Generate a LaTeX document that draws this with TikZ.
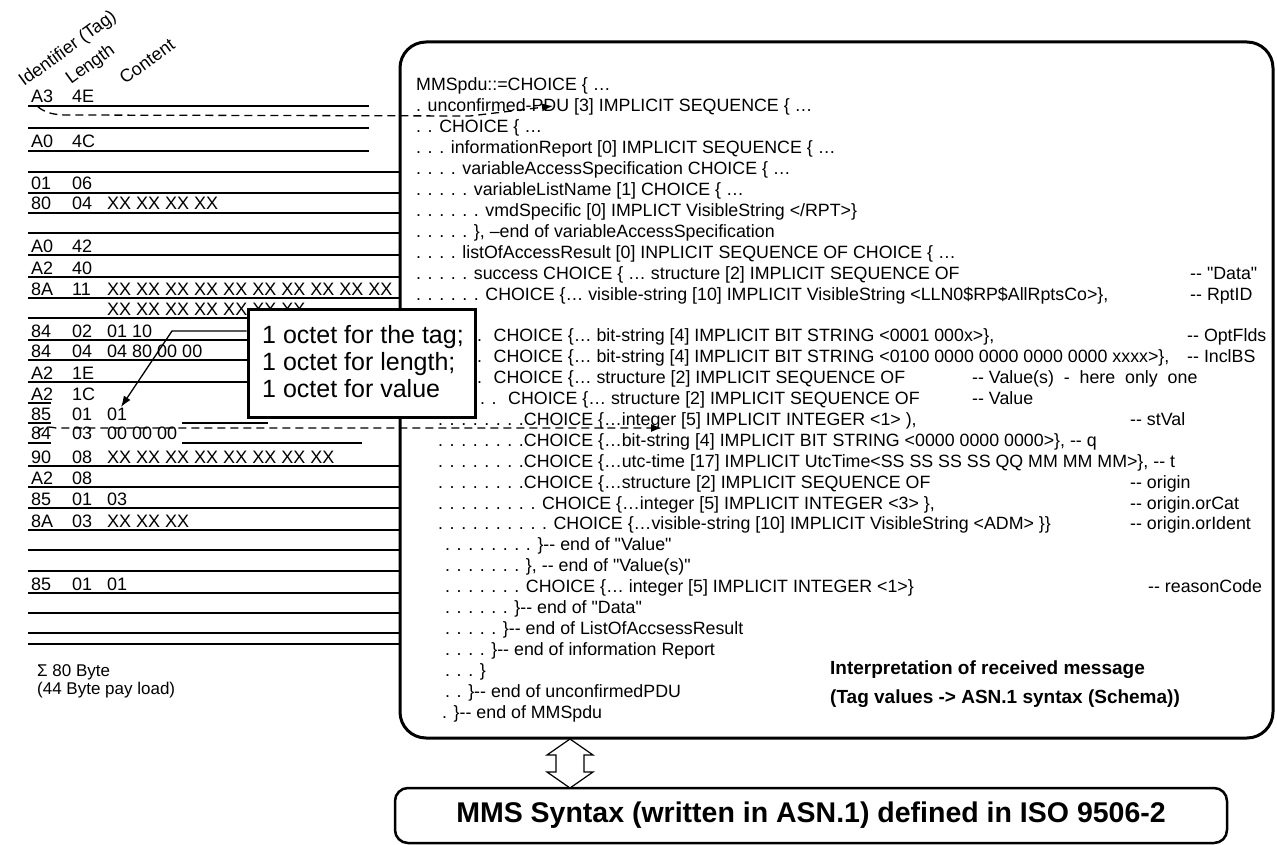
\documentclass[tikz,border=0pt]{standalone}
\usepackage{fontspec}
\setmainfont{Liberation Sans}
\newfontfamily\lsans{Liberation Sans}
\usetikzlibrary{arrows.meta}
\newcommand\dd{-\kern0pt-}
\newcommand\lrow[5]{%
  \node[lc] (#1a) at (31,#2) {#3};
  \node[lc] (#1b) at (72,#2) {#4};
  \node[lc] (#1c) at (107,#2) {#5};}
\newcommand\bl[4]{\node[asn] (#1) at (#2,{91+(#3-1)*20.9}) {#4};}
\begin{document}
\begin{tikzpicture}[x=1pt,y=-1pt,
  asn/.style={anchor=base west,inner sep=0pt,text height=13pt,text depth=3.5pt,
     font=\lsans\fontsize{17.8}{21}\selectfont},
  lc/.style={anchor=base west,inner sep=0pt,text height=13pt,text depth=3.5pt,
     font=\lsans\fontsize{18}{21}\selectfont},
  hdr/.style={anchor=base west,inner sep=0pt,rotate=36,text height=13pt,text depth=3.5pt,
     font=\lsans\fontsize{18}{20}\selectfont},
  bld/.style={anchor=base west,inner sep=0pt,text height=14pt,text depth=4pt,
     font=\lsans\bfseries\fontsize{19}{21}\selectfont},
  cot/.style={anchor=base west,inner sep=0pt,text height=18pt,text depth=5pt,
     font=\lsans\fontsize{25}{27}\selectfont},
  rowline/.style={line width=1.3pt},
  dline/.style={line width=1.3pt,dash pattern=on 8pt off 5pt,-{Latex[length=11pt,width=8pt]}},
  pline/.style={line width=1.3pt,-{Latex[length=11pt,width=8pt]}},
  bigbox/.style={draw,line width=3pt,rounded corners=26pt,inner sep=0pt},
  callout/.style={draw,line width=3pt,fill=white,inner sep=0pt},
  mmsbox/.style={draw,line width=2.5pt,rounded corners=13pt,inner sep=0pt,
     font=\lsans\bfseries\fontsize{28.5}{30}\selectfont},
  blockarrow/.style={draw,line width=1.2pt,fill=white,line join=miter}
]
\useasboundingbox (0,0) rectangle (1277,845);

% ---------- left column: row lines ----------
\foreach \y in {106,128,151} \draw[rowline] (28,\y) -- (369,\y);
\foreach \y in {172,193,213,233,255,277,298,318,466,487,508,530,550,571,593,613,633,644}
  \draw[rowline] (28,\y) -- (400,\y);
\foreach \y in {340,360,382} \draw[rowline] (28,\y) -- (248,\y);
\foreach \y in {403,423,443} \draw[rowline] (28,\y) -- (51,\y);
\draw[rowline] (182,423) -- (268,423);
\draw[rowline] (182,443) -- (362,443);

% ---------- headers ----------
\node[hdr] (hid) at (24,87) {Identifier (Tag)};
\node[hdr] (hlen) at (71,85) {Length};
\node[hdr] (hcon) at (125,85) {Content};

% ---------- left column: rows ----------
\lrow{ra}{103}{A3}{4E}{}
\lrow{rb}{148}{A0}{4C}{}
\lrow{rc}{190}{01}{06}{}
\lrow{rd}{210}{80}{04}{XX XX XX XX}
\lrow{re}{252}{A0}{42}{}
\lrow{rf}{274}{A2}{40}{}
\lrow{rg}{295}{8A}{11}{XX XX XX XX XX XX XX XX XX XX}
\node[lc] (rhc) at (107,315) {XX XX XX XX XX XX XX};
\lrow{ri}{337}{84}{02}{01 10}
\lrow{rj}{357}{84}{04}{04 80 00 00}
\lrow{rk}{379}{A2}{1E}{}
\lrow{rl}{400}{A2}{1C}{}
\lrow{rm}{420}{85}{01}{01}
\lrow{rn}{439}{84}{03}{00 00 00}
\lrow{ro}{463}{90}{08}{XX XX XX XX XX XX XX XX}
\lrow{rp}{484}{A2}{08}{}
\lrow{rq}{505}{85}{01}{03}
\lrow{rr}{527}{8A}{03}{XX XX XX}
\lrow{rs}{590}{85}{01}{01}
\node[lc,font=\lsans\fontsize{17}{20}\selectfont] (sum1) at (37,676) {Σ 80 Byte};
\node[lc,font=\lsans\fontsize{17}{20}\selectfont] (sum2) at (37,694) {(44 Byte pay load)};

% ---------- big box ----------
\node[bigbox,minimum width=873pt,minimum height=696pt] (asnbox) at (836.5,390) {};

\bl{l1}{416}{1}{MMSpdu::=CHOICE \{ …}
\bl{l2}{416}{2}{. unconfirmed-PDU [3] IMPLICIT SEQUENCE \{ …}
\bl{l3}{416}{3}{. . CHOICE \{ …}
\bl{l4}{416}{4}{. . . informationReport [0] IMPLICIT SEQUENCE \{ …}
\bl{l5}{416}{5}{. . . . variableAccessSpecification CHOICE \{ …}
\bl{l6}{416}{6}{. . . . . variableListName [1] CHOICE \{ …}
\bl{l7}{416}{7}{. . . . . . vmdSpecific [0] IMPLICT VisibleString </RPT>\}}
\bl{l8}{416}{8}{. . . . . \}, –end of variableAccessSpecification}
\bl{l9}{416}{9}{. . . . listOfAccessResult [0] INPLICIT SEQUENCE OF CHOICE \{ …}
\bl{l10}{416}{10}{. . . . . success CHOICE \{ … structure [2] IMPLICIT SEQUENCE OF}
\bl{c10}{1190}{10}{\dd\ "Data"}
\bl{l11}{416}{11}{. . . . . . CHOICE \{… visible-string [10] IMPLICIT VisibleString <LLN0\$RP\$AllRptsCo>\},}
\bl{c11}{1190}{11}{\dd\ RptID}
\bl{l12}{477}{13}{. \ CHOICE \{… bit-string [4] IMPLICIT BIT STRING <0001 000x>\},}
\bl{c12}{1187}{13}{\dd\ OptFlds}
\bl{l13}{477}{14}{. \ CHOICE \{… bit-string [4] IMPLICIT BIT STRING <0100 0000 0000 0000 0000 xxxx>\},}
\bl{c13}{1187}{14}{\dd\ InclBS}
\bl{l14}{477}{15}{. \ CHOICE \{… structure [2] IMPLICIT SEQUENCE OF}
\bl{c14}{972}{15}{\dd\ Value(s) \ - \ here \ only \ one}
\bl{l15}{480}{16}{. . \ CHOICE \{… structure [2] IMPLICIT SEQUENCE OF}
\bl{c15}{972}{16}{\dd\ Value}
\bl{l16}{438}{17}{. . . . . . . .CHOICE \{…integer [5] IMPLICIT INTEGER <1> ),}
\bl{c16}{1130}{17}{\dd\ stVal}
\bl{l17}{438}{18}{. . . . . . . .CHOICE \{…bit-string [4] IMPLICIT BIT STRING <0000 0000 0000>\}, \dd\ q}
\bl{l18}{438}{19}{. . . . . . . .CHOICE \{…utc-time [17] IMPLICIT UtcTime<SS SS SS SS QQ MM MM MM>\}, \dd\ t}
\bl{l19}{438}{20}{. . . . . . . .CHOICE \{…structure [2] IMPLICIT SEQUENCE OF}
\bl{c19}{1130}{20}{\dd\ origin}
\bl{l20}{438}{21}{. . . . . . . . . CHOICE \{…integer [5] IMPLICIT INTEGER <3> \},}
\bl{c20}{1130}{21}{\dd\ origin.orCat}
\bl{l21}{438}{22}{. . . . . . . . . . CHOICE \{…visible-string [10] IMPLICIT VisibleString <ADM> \}\}}
\bl{c21}{1130}{22}{\dd\ origin.orIdent}
\bl{l22}{445}{23}{. . . . . . . . \}\dd\ end of "Value"}
\bl{l23}{445}{24}{. . . . . . . \}, \dd\ end of "Value(s)"}
\bl{l24}{445}{25}{. . . . . . . CHOICE \{… integer [5] IMPLICIT INTEGER <1>\}}
\bl{c24}{1148}{25}{\dd\ reasonCode}
\bl{l25}{445}{26}{. . . . . . \}\dd\ end of "Data"}
\bl{l26}{445}{27}{. . . . . \}\dd\ end of ListOfAccsessResult}
\bl{l27}{445}{28}{. . . . \}\dd\ end of information Report}
\bl{l28}{445}{29}{. . . \}}
\bl{l29}{445}{30}{. . \}\dd\ end of unconfirmedPDU}
\bl{l30}{442}{31}{. \}\dd\ end of MMSpdu}

\node[bld] (int1) at (830,674) {Interpretation of received message};
\node[bld] (int2) at (830,703) {(Tag values -> ASN.1 syntax (Schema))};

% ---------- dashed arrows ----------
\coordinate (d1s) at (38,107);
\coordinate (d1e) at (553,106);
\draw[dline] (d1s) .. controls (46,113) and (54,115) .. (68,115) -- (470,116) -- (d1e);
\coordinate (d2s) at (38,433);
\coordinate (d2e) at (662,428);
\draw[dline] (d2s) .. controls (40,427) and (46,426) .. (56,428) -- (d2e);

% ---------- callout ----------
\node[callout,minimum width=227pt,minimum height=108pt] (co) at (361.5,363) {};
\node[cot] (co1) at (262,343) {1 octet for the tag;};
\node[cot] (co2) at (262,370) {1 octet for length;};
\node[cot] (co3) at (262,397) {1 octet for value};
\coordinate (cos) at (co.west |- 0,331);
\coordinate (cob) at (172,331);
\coordinate (cot) at (121,407);
\draw[pline] (cos) -- (cob) -- (cot);

% ---------- bottom box and double arrow ----------
\node[mmsbox,minimum width=832pt,minimum height=55pt] (mms) at (811,815.5) {MMS Syntax (written in ASN.1) defined in ISO 9506-2};
\draw[blockarrow] (570,739) -- (593,755) -- (584,755) -- (584,772) -- (593,772) -- (570,788)
  -- (547,772) -- (556,772) -- (556,755) -- (547,755) -- cycle;
\end{tikzpicture}
\end{document}
